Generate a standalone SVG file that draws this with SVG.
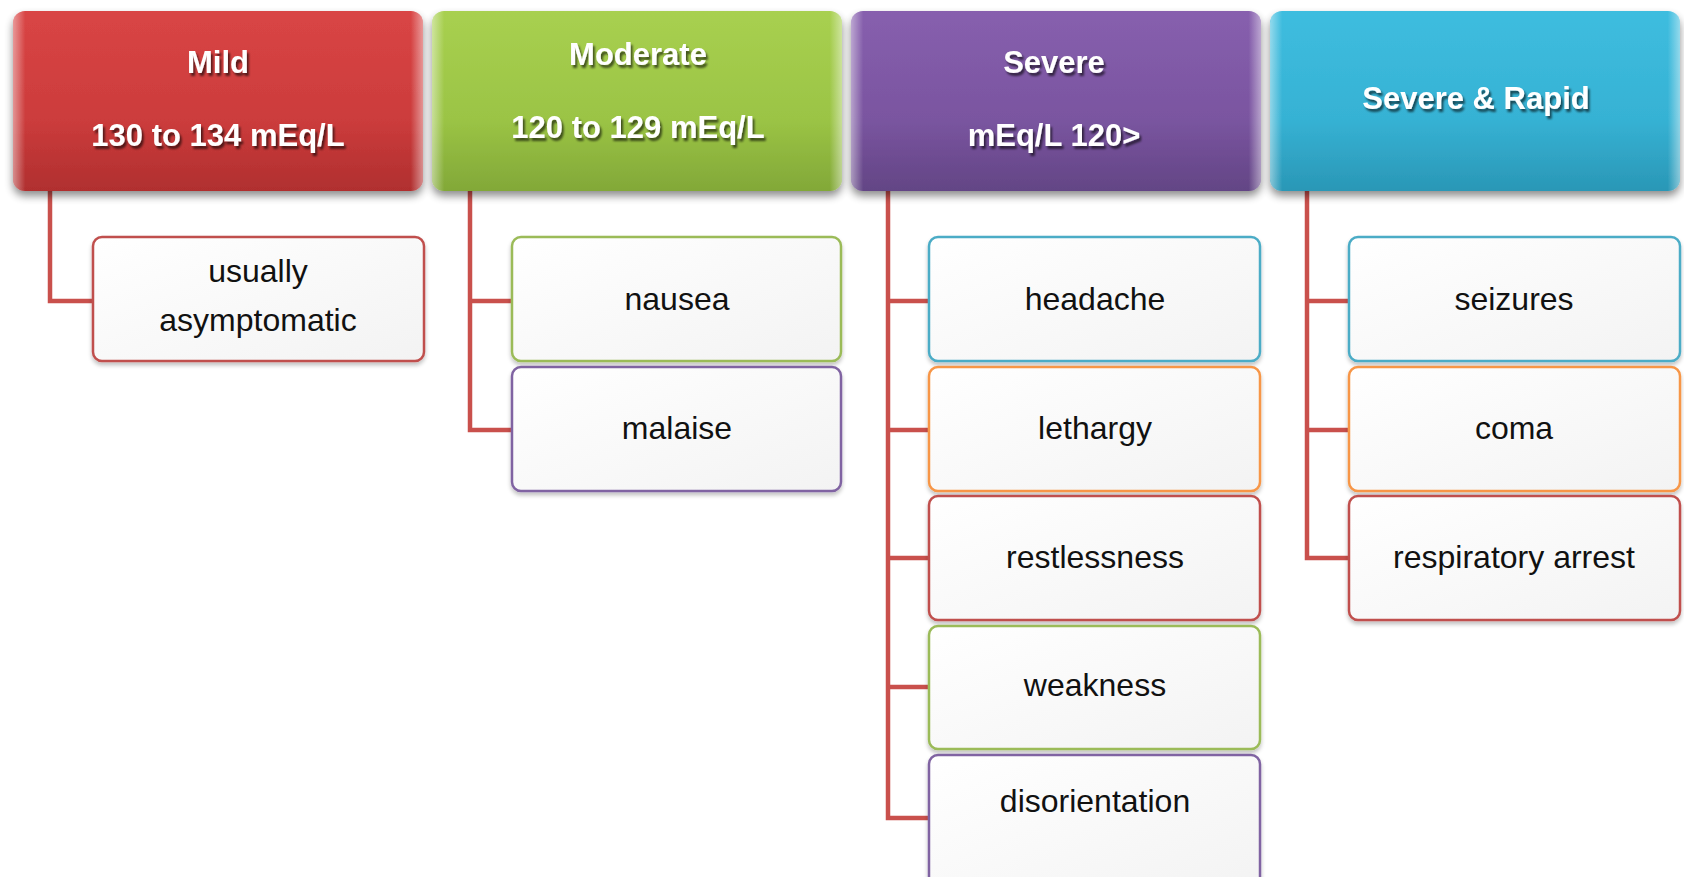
<svg xmlns="http://www.w3.org/2000/svg" width="1684" height="877" viewBox="0 0 1684 877">
<defs>
<linearGradient id="gRed" x1="0" y1="0" x2="0" y2="1"><stop offset="0" stop-color="#d94545"/><stop offset="0.6" stop-color="#cc3c3c"/><stop offset="1" stop-color="#b02f2f"/></linearGradient>
<linearGradient id="gGreen" x1="0" y1="0" x2="0" y2="1"><stop offset="0" stop-color="#a8d050"/><stop offset="0.6" stop-color="#9bc445"/><stop offset="1" stop-color="#82a838"/></linearGradient>
<linearGradient id="gPurple" x1="0" y1="0" x2="0" y2="1"><stop offset="0" stop-color="#875fae"/><stop offset="0.6" stop-color="#7a55a0"/><stop offset="1" stop-color="#634585"/></linearGradient>
<linearGradient id="gCyan" x1="0" y1="0" x2="0" y2="1"><stop offset="0" stop-color="#3ebddf"/><stop offset="0.6" stop-color="#36b2d4"/><stop offset="1" stop-color="#2a97b6"/></linearGradient>
<linearGradient id="gBox" x1="0" y1="0" x2="1" y2="1"><stop offset="0" stop-color="#ffffff"/><stop offset="1" stop-color="#f3f3f3"/></linearGradient>
<linearGradient id="gShine" x1="0" y1="0" x2="1" y2="0"><stop offset="0" stop-color="#fff" stop-opacity="0.45"/><stop offset="0.03" stop-color="#fff" stop-opacity="0"/><stop offset="0.97" stop-color="#fff" stop-opacity="0"/><stop offset="1" stop-color="#fff" stop-opacity="0.45"/></linearGradient>
<filter id="hshadow" x="-5%" y="-10%" width="110%" height="130%"><feGaussianBlur in="SourceAlpha" stdDeviation="4"/><feOffset dy="5"/><feComponentTransfer><feFuncA type="linear" slope="0.45"/></feComponentTransfer><feMerge><feMergeNode/><feMergeNode in="SourceGraphic"/></feMerge></filter>
<filter id="bshadow" x="-5%" y="-10%" width="110%" height="125%"><feGaussianBlur in="SourceAlpha" stdDeviation="2"/><feOffset dy="3"/><feComponentTransfer><feFuncA type="linear" slope="0.25"/></feComponentTransfer><feMerge><feMergeNode/><feMergeNode in="SourceGraphic"/></feMerge></filter>
<filter id="tshadow" x="-10%" y="-30%" width="120%" height="160%"><feGaussianBlur in="SourceAlpha" stdDeviation="1"/><feOffset dx="2" dy="3"/><feComponentTransfer><feFuncA type="linear" slope="0.6"/></feComponentTransfer><feMerge><feMergeNode/><feMergeNode in="SourceGraphic"/></feMerge></filter>
</defs>
<style>
.hdr{filter:url(#hshadow);}
.shine{fill:url(#gShine);}
.ht{font-family:"Liberation Sans","DejaVu Sans",sans-serif;font-weight:bold;font-size:31px;fill:#ffffff;text-anchor:middle;filter:url(#tshadow);}
.box{fill:url(#gBox);stroke-width:2.5;filter:url(#bshadow);}
.bt{font-family:"Liberation Sans","DejaVu Sans",sans-serif;font-size:32px;fill:#111111;text-anchor:middle;}
.conn{fill:none;stroke:#c9504c;stroke-width:4.5;}
.r{stroke:#c0504d;} .g{stroke:#9bbb59;} .p{stroke:#8064a2;} .t{stroke:#4bacc6;} .o{stroke:#f79646;}
</style>

<g id="connectors">
<path class="conn" d="M50,191 V301 H93"/>
<path class="conn" d="M470,191 V430 H512 M470,301 H512"/>
<path class="conn" d="M888,191 V818 H929 M888,301 H929 M888,430 H929 M888,558 H929 M888,687 H929"/>
<path class="conn" d="M1307,191 V558 H1349 M1307,301 H1349 M1307,430 H1349"/>
</g>

<g id="mild">
<rect class="hdr" x="13" y="11" width="410" height="180" rx="12" fill="url(#gRed)"/>
<rect class="shine" x="13" y="11" width="410" height="180" rx="12"/>
<text class="ht" x="218" y="73">Mild</text>
<text class="ht" x="218" y="146">130 to 134 mEq/L</text>
</g>
<g id="moderate">
<rect class="hdr" x="432" y="11" width="410" height="180" rx="12" fill="url(#gGreen)"/>
<rect class="shine" x="432" y="11" width="410" height="180" rx="12"/>
<text class="ht" x="638" y="65">Moderate</text>
<text class="ht" x="638" y="138">120 to 129 mEq/L</text>
</g>
<g id="severe">
<rect class="hdr" x="851" y="11" width="410" height="180" rx="12" fill="url(#gPurple)"/>
<rect class="shine" x="851" y="11" width="410" height="180" rx="12"/>
<text class="ht" x="1054" y="73">Severe</text>
<text class="ht" x="1054" y="146">mEq/L 120&gt;</text>
</g>
<g id="severe-rapid">
<rect class="hdr" x="1270" y="11" width="410" height="180" rx="12" fill="url(#gCyan)"/>
<rect class="shine" x="1270" y="11" width="410" height="180" rx="12"/>
<text class="ht" x="1476" y="109">Severe &amp; Rapid</text>
</g>

<g id="usually-asymptomatic">
<rect class="box r" x="93" y="237" width="331" height="124" rx="9"/>
<text class="bt" x="258" y="282">usually</text>
<text class="bt" x="258" y="331">asymptomatic</text>
</g>
<g id="nausea">
<rect class="box g" x="512" y="237" width="329" height="124" rx="9"/>
<text class="bt" x="677" y="310">nausea</text>
</g>
<g id="malaise">
<rect class="box p" x="512" y="367" width="329" height="124" rx="9"/>
<text class="bt" x="677" y="439">malaise</text>
</g>
<g id="headache">
<rect class="box t" x="929" y="237" width="331" height="124" rx="9"/>
<text class="bt" x="1095" y="310">headache</text>
</g>
<g id="lethargy">
<rect class="box o" x="929" y="367" width="331" height="124" rx="9"/>
<text class="bt" x="1095" y="439">lethargy</text>
</g>
<g id="restlessness">
<rect class="box r" x="929" y="496" width="331" height="124" rx="9"/>
<text class="bt" x="1095" y="568">restlessness</text>
</g>
<g id="weakness">
<rect class="box g" x="929" y="626" width="331" height="123" rx="9"/>
<text class="bt" x="1095" y="696">weakness</text>
</g>
<g id="disorientation">
<rect class="box p" x="929" y="755" width="331" height="135" rx="9"/>
<text class="bt" x="1095" y="812">disorientation</text>
</g>
<g id="seizures">
<rect class="box t" x="1349" y="237" width="331" height="124" rx="9"/>
<text class="bt" x="1514" y="310">seizures</text>
</g>
<g id="coma">
<rect class="box o" x="1349" y="367" width="331" height="124" rx="9"/>
<text class="bt" x="1514" y="439">coma</text>
</g>
<g id="respiratory-arrest">
<rect class="box r" x="1349" y="496" width="331" height="124" rx="9"/>
<text class="bt" x="1514" y="568">respiratory arrest</text>
</g>
</svg>
